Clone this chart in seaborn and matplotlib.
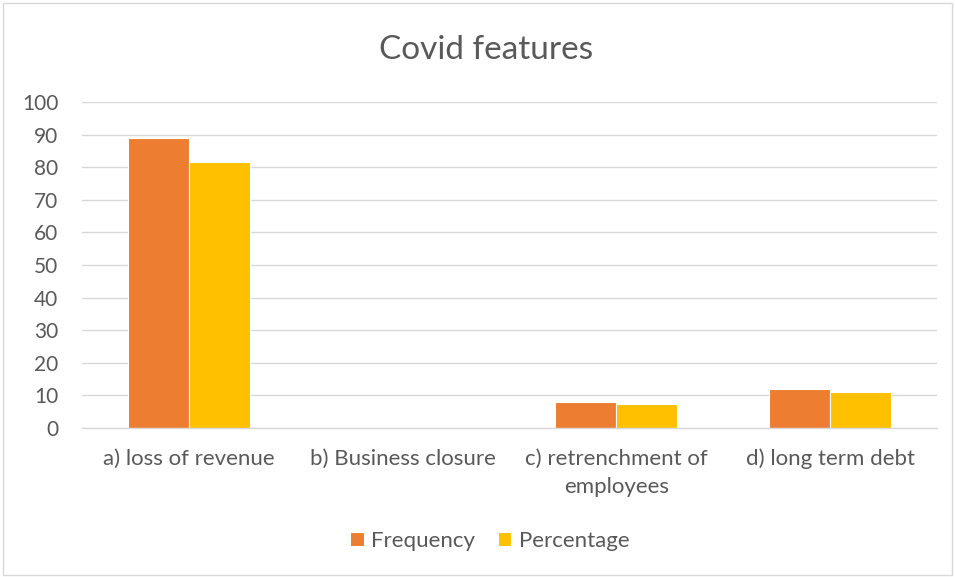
import matplotlib
matplotlib.use("Agg")
import matplotlib.pyplot as plt
from matplotlib.patches import Rectangle
import pandas as pd
import seaborn as sns

categories = ["a) loss of revenue", "b) Business closure",
              "c) retrenchment of\nemployees", "d) long term debt"]
frequency = [89, 0, 8, 12]
percentage = [81.65, 0, 7.34, 11.01]
series_names = ["Frequency", "Percentage"]
yticks = [0, 10, 20, 30, 40, 50, 60, 70, 80, 90, 100]

df = pd.DataFrame({
    "category": categories * 2,
    "series": [series_names[0]] * len(categories) + [series_names[1]] * len(categories),
    "value": frequency + percentage,
})

sns.set_theme(style="white")
plt.rcParams["font.family"] = ["Lato", "DejaVu Sans"]
text_color = "#595959"

fig = plt.figure(figsize=(9.55, 5.77), dpi=100)
ax = fig.add_axes([0.0859, 0.2582, 0.8953, 0.565])

sns.barplot(data=df, x="category", y="value", hue="series",
            palette=["#ED7D31", "#FFC000"], saturation=1, width=0.571,
            edgecolor="white", linewidth=0.8, ax=ax, legend=True)

ax.set_ylim(0, 100)
ax.set_xlim(-0.5, len(categories) - 0.5)
ax.set_yticks(yticks)
ax.set_yticklabels([str(t) for t in yticks], fontsize=15, color=text_color)
ax.tick_params(axis="x", labelsize=16, labelcolor=text_color, length=0, pad=15)
ax.tick_params(axis="y", length=0, pad=17)
for lbl in ax.get_xticklabels():
    lbl.set_linespacing(1.5)
ax.set_xlabel("")
ax.set_ylabel("")
ax.grid(axis="y", color="#D9D9D9", linewidth=1)
ax.set_axisbelow(True)
for side in ["top", "right", "left"]:
    ax.spines[side].set_visible(False)
ax.spines["bottom"].set_color("#D9D9D9")
ax.spines["bottom"].set_linewidth(1)

fig.text(0.509, 0.913, "Covid features", ha="center", va="center",
         fontsize=24, color=text_color)

handles, labels = ax.get_legend_handles_labels()
ax.legend_.remove()
fig.legend(handles, labels, loc="center", bbox_to_anchor=(0.513, 0.062),
           ncol=2, frameon=False, fontsize=16, labelcolor=text_color,
           handlelength=0.6, handleheight=0.6, handletextpad=0.35,
           columnspacing=1.0)

fig.patches.append(Rectangle((0.003, 0.004), 0.994, 0.991, transform=fig.transFigure,
                             fill=False, edgecolor="#D9D9D9", linewidth=1))

fig.savefig("out.png", dpi=100)
